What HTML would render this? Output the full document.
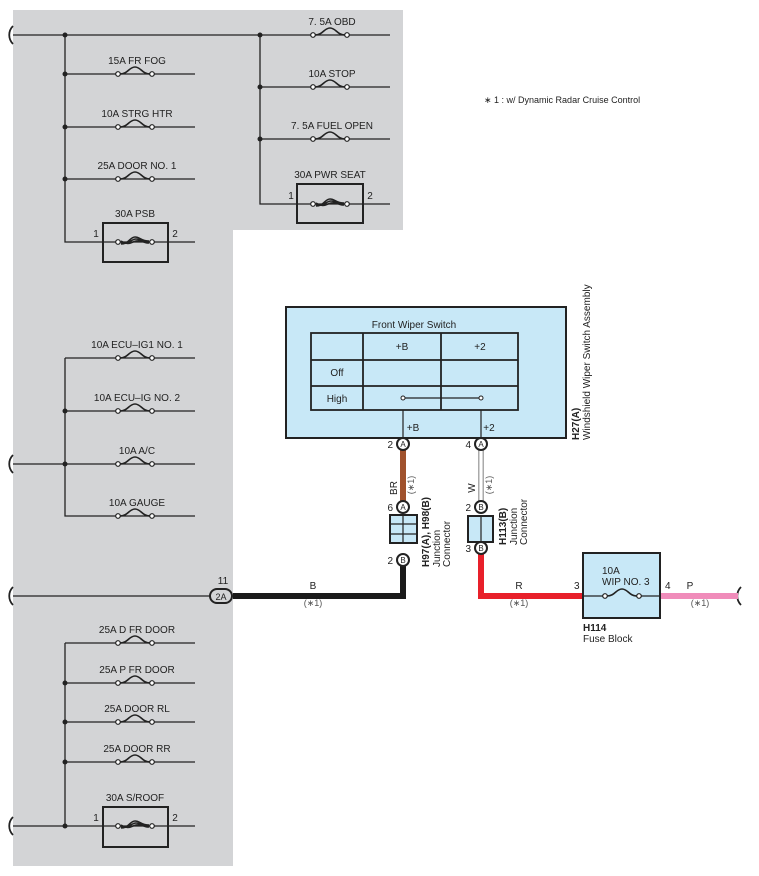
<!DOCTYPE html>
<html><head><meta charset="utf-8"><style>
html,body{margin:0;padding:0;background:#fff}
svg{display:block;font-family:"Liberation Sans",sans-serif}
</style></head><body>
<svg width="759" height="876" viewBox="0 0 759 876" xmlns="http://www.w3.org/2000/svg">
<defs>
<g id="fuse"><path d="M-15,0 C-7,0 -6,-7 0,-7 C6,-7 7,0 15,0" fill="none" stroke="#222" stroke-width="1.6"/><circle cx="-17" cy="0" r="2.3" fill="#fff" stroke="#222" stroke-width="1.2"/><circle cx="17" cy="0" r="2.3" fill="#fff" stroke="#222" stroke-width="1.2"/></g>
<g id="bigfuse"><path d="M-14,2 C-6,2 -5,-5 0,-5 C5,-5 6,-1 14,-1 M-14,1 C-6,3 -4,-3 1,-3 C6,-3 7,1 14,1 M-14,-1 C-6,4 -4,0 1,-1 C6,-2 8,0 14,0" fill="none" stroke="#222" stroke-width="1.6"/><circle cx="-17" cy="0" r="2.3" fill="#fff" stroke="#222" stroke-width="1.2"/><circle cx="17" cy="0" r="2.3" fill="#fff" stroke="#222" stroke-width="1.2"/></g>
<path id="brk" d="M0,-9 C-5,-4 -5,4 0,9" fill="none" stroke="#222" stroke-width="1.8"/>
</defs>
<path d="M13,10 H403 V230 H233 V866 H13 Z" fill="#d3d4d6"/>
<g stroke="#222" stroke-width="1.3" fill="none">
<path d="M13,35 H390 M65,35 V242 H195 M65,74 H195 M65,127 H195 M65,179 H195 M260,35 V204 H390 M260,87 H390 M260,139 H390"/>
<path d="M65,358 V516 H195 M65,358 H195 M65,411 H195 M13,464 H195"/>
<path d="M65,643 V826 M65,643 H195 M65,683 H195 M65,722 H195 M65,762 H195 M13,826 H195"/>
<path d="M13,596 H212"/>
</g>
<g fill="#222"><circle cx="65" cy="35" r="2.5"/><circle cx="65" cy="74" r="2.5"/><circle cx="65" cy="127" r="2.5"/><circle cx="65" cy="179" r="2.5"/><circle cx="260" cy="35" r="2.5"/><circle cx="260" cy="87" r="2.5"/><circle cx="260" cy="139" r="2.5"/><circle cx="65" cy="411" r="2.5"/><circle cx="65" cy="464" r="2.5"/><circle cx="65" cy="683" r="2.5"/><circle cx="65" cy="722" r="2.5"/><circle cx="65" cy="762" r="2.5"/><circle cx="65" cy="826" r="2.5"/></g>
<use href="#brk" x="13" y="35"/><use href="#brk" x="13" y="464"/><use href="#brk" x="13" y="596"/><use href="#brk" x="13" y="826"/><use href="#brk" x="741" y="596"/>
<use href="#fuse" x="135" y="74"/><use href="#fuse" x="135" y="127"/><use href="#fuse" x="135" y="179"/>
<use href="#fuse" x="330" y="35"/><use href="#fuse" x="330" y="87"/><use href="#fuse" x="330" y="139"/>
<use href="#fuse" x="135" y="358"/><use href="#fuse" x="135" y="411"/><use href="#fuse" x="135" y="464"/><use href="#fuse" x="135" y="516"/>
<use href="#fuse" x="135" y="643"/><use href="#fuse" x="135" y="683"/><use href="#fuse" x="135" y="722"/><use href="#fuse" x="135" y="762"/>
<rect x="103" y="223" width="65" height="39" fill="none" stroke="#222" stroke-width="2"/><use href="#bigfuse" x="135" y="242"/>
<rect x="297" y="184" width="66" height="39" fill="none" stroke="#222" stroke-width="2"/><use href="#bigfuse" x="330" y="204"/>
<rect x="103" y="807" width="65" height="40" fill="none" stroke="#222" stroke-width="2"/><use href="#bigfuse" x="135" y="826"/>
<g font-size="10" fill="#222" text-anchor="middle">
<text x="137" y="64">15A FR FOG</text><text x="137" y="117">10A STRG HTR</text><text x="137" y="169">25A DOOR NO. 1</text><text x="135" y="217">30A PSB</text>
<text x="332" y="25">7. 5A OBD</text><text x="332" y="77">10A STOP</text><text x="332" y="129">7. 5A FUEL OPEN</text><text x="330" y="178">30A PWR SEAT</text>
<text x="96" y="237">1</text><text x="175" y="237">2</text><text x="291" y="199">1</text><text x="370" y="199">2</text>
<text x="137" y="348">10A ECU–IG1 NO. 1</text><text x="137" y="401">10A ECU–IG NO. 2</text><text x="137" y="454">10A A/C</text><text x="137" y="506">10A GAUGE</text>
<text x="137" y="633">25A D FR DOOR</text><text x="137" y="673">25A P FR DOOR</text><text x="137" y="712">25A DOOR RL</text><text x="137" y="752">25A DOOR RR</text><text x="135" y="801">30A S/ROOF</text>
<text x="96" y="821">1</text><text x="175" y="821">2</text>
<text x="223" y="584">11</text>
<text x="313" y="589">B</text><text x="313" y="606" font-size="9" fill="#555">(∗1)</text>
<text x="519" y="589">R</text><text x="519" y="606" font-size="9" fill="#555">(∗1)</text>
<text x="690" y="589">P</text><text x="700" y="606" font-size="9" fill="#555">(∗1)</text>
</g>
<text x="484" y="103" font-size="9" fill="#222">∗ 1 : w/ Dynamic Radar Cruise Control</text>
<!-- wires -->
<path d="M233,596 H403 V566" fill="none" stroke="#1a1a1a" stroke-width="6"/>
<path d="M403,450 V501" stroke="#a0522d" stroke-width="6"/>
<path d="M481,450 V501" stroke="#aaa" stroke-width="6"/><path d="M481,450 V501" stroke="#fff" stroke-width="3"/>
<path d="M481,553 V596 H583" fill="none" stroke="#e8202a" stroke-width="6"/>
<path d="M660,596 H738" stroke="#f08cba" stroke-width="6"/>
<path d="M212,591 L218,596 L212,601 Z" fill="#222"/>
<rect x="210" y="589" width="22" height="14" rx="7" fill="#d3d4d6" stroke="#222" stroke-width="2"/>
<text x="221" y="600" font-size="9" text-anchor="middle" fill="#222">2A</text>
<!-- switch -->
<rect x="286" y="307" width="280" height="131" fill="#c8e8f7" stroke="#222" stroke-width="2"/>
<text x="414" y="328" font-size="10" text-anchor="middle" fill="#222">Front Wiper Switch</text>
<g stroke="#222" stroke-width="1.8" fill="none"><rect x="311" y="333" width="207" height="77"/><path d="M363,333 V410 M441,333 V410 M311,360 H518 M311,386 H518"/></g>
<path d="M403,398 H481 M403,410 V438 M481,410 V438" stroke="#222" stroke-width="1.2"/>
<circle cx="403" cy="398" r="2" fill="#fff" stroke="#222"/><circle cx="481" cy="398" r="2" fill="#fff" stroke="#222"/>
<g font-size="10" fill="#222" text-anchor="middle"><text x="402" y="350">+B</text><text x="480" y="350">+2</text><text x="337" y="376">Off</text><text x="337" y="402">High</text><text x="413" y="431">+B</text><text x="489" y="431">+2</text></g>
<!-- connector boxes -->
<rect x="390" y="515" width="27" height="28" fill="#c8e8f7" stroke="#222" stroke-width="2"/>
<path d="M403,515 V543 M390,524 H417 M390,534 H417" stroke="#222" stroke-width="1.2"/>
<rect x="468" y="516" width="25" height="26" fill="#c8e8f7" stroke="#222" stroke-width="2"/>
<path d="M481,516 V542" stroke="#222" stroke-width="1.2"/>
<g fill="#fff" stroke="#222" stroke-width="2">
<circle cx="403" cy="444" r="6"/><circle cx="481" cy="444" r="6"/><circle cx="403" cy="507" r="6"/><circle cx="403" cy="560" r="6"/><circle cx="481" cy="507" r="6"/><circle cx="481" cy="548" r="6"/>
</g>
<g font-size="8" text-anchor="middle" fill="#222"><text x="403" y="447">A</text><text x="481" y="447">A</text><text x="403" y="510">A</text><text x="403" y="563">B</text><text x="481" y="510">B</text><text x="481" y="551">B</text></g>
<g font-size="10" fill="#222" text-anchor="end"><text x="393" y="448">2</text><text x="471" y="448">4</text><text x="393" y="511">6</text><text x="393" y="564">2</text><text x="471" y="511">2</text><text x="471" y="552">3</text></g>
<!-- fuse block -->
<rect x="583" y="553" width="77" height="65" fill="#c8e8f7" stroke="#222" stroke-width="2"/>
<path d="M583,596 H660" stroke="#222" stroke-width="1.2"/>
<rect x="604" y="588" width="36" height="12" fill="#c8e8f7"/>
<use href="#fuse" x="622" y="596"/>
<g font-size="10" fill="#222"><text x="602" y="574">10A</text><text x="602" y="585">WIP NO. 3</text><text x="574" y="589">3</text><text x="665" y="589">4</text>
<text x="583" y="631" font-weight="bold">H114</text><text x="583" y="642">Fuse Block</text></g>
<!-- vertical labels -->
<g font-size="10" fill="#222">
<text transform="translate(397,488) rotate(-90)" text-anchor="middle">BR</text>
<text transform="translate(475,488) rotate(-90)" text-anchor="middle">W</text>
<text transform="translate(414,485) rotate(-90)" text-anchor="middle" font-size="9" fill="#555">(∗1)</text>
<text transform="translate(492,485) rotate(-90)" text-anchor="middle" font-size="9" fill="#555">(∗1)</text>
<text transform="translate(429,567) rotate(-90)" font-weight="bold">H97(A), H98(B)</text>
<text transform="translate(440,567) rotate(-90)">Junction</text>
<text transform="translate(450,567) rotate(-90)">Connector</text>
<text transform="translate(506,545) rotate(-90)" font-weight="bold">H113(B)</text>
<text transform="translate(517,545) rotate(-90)">Junction</text>
<text transform="translate(527,545) rotate(-90)">Connector</text>
<text transform="translate(579,440) rotate(-90)" font-weight="bold">H27(A)</text>
<text transform="translate(590,440) rotate(-90)">Windshield Wiper Switch Assembly</text>
</g>
</svg>
</body></html>
